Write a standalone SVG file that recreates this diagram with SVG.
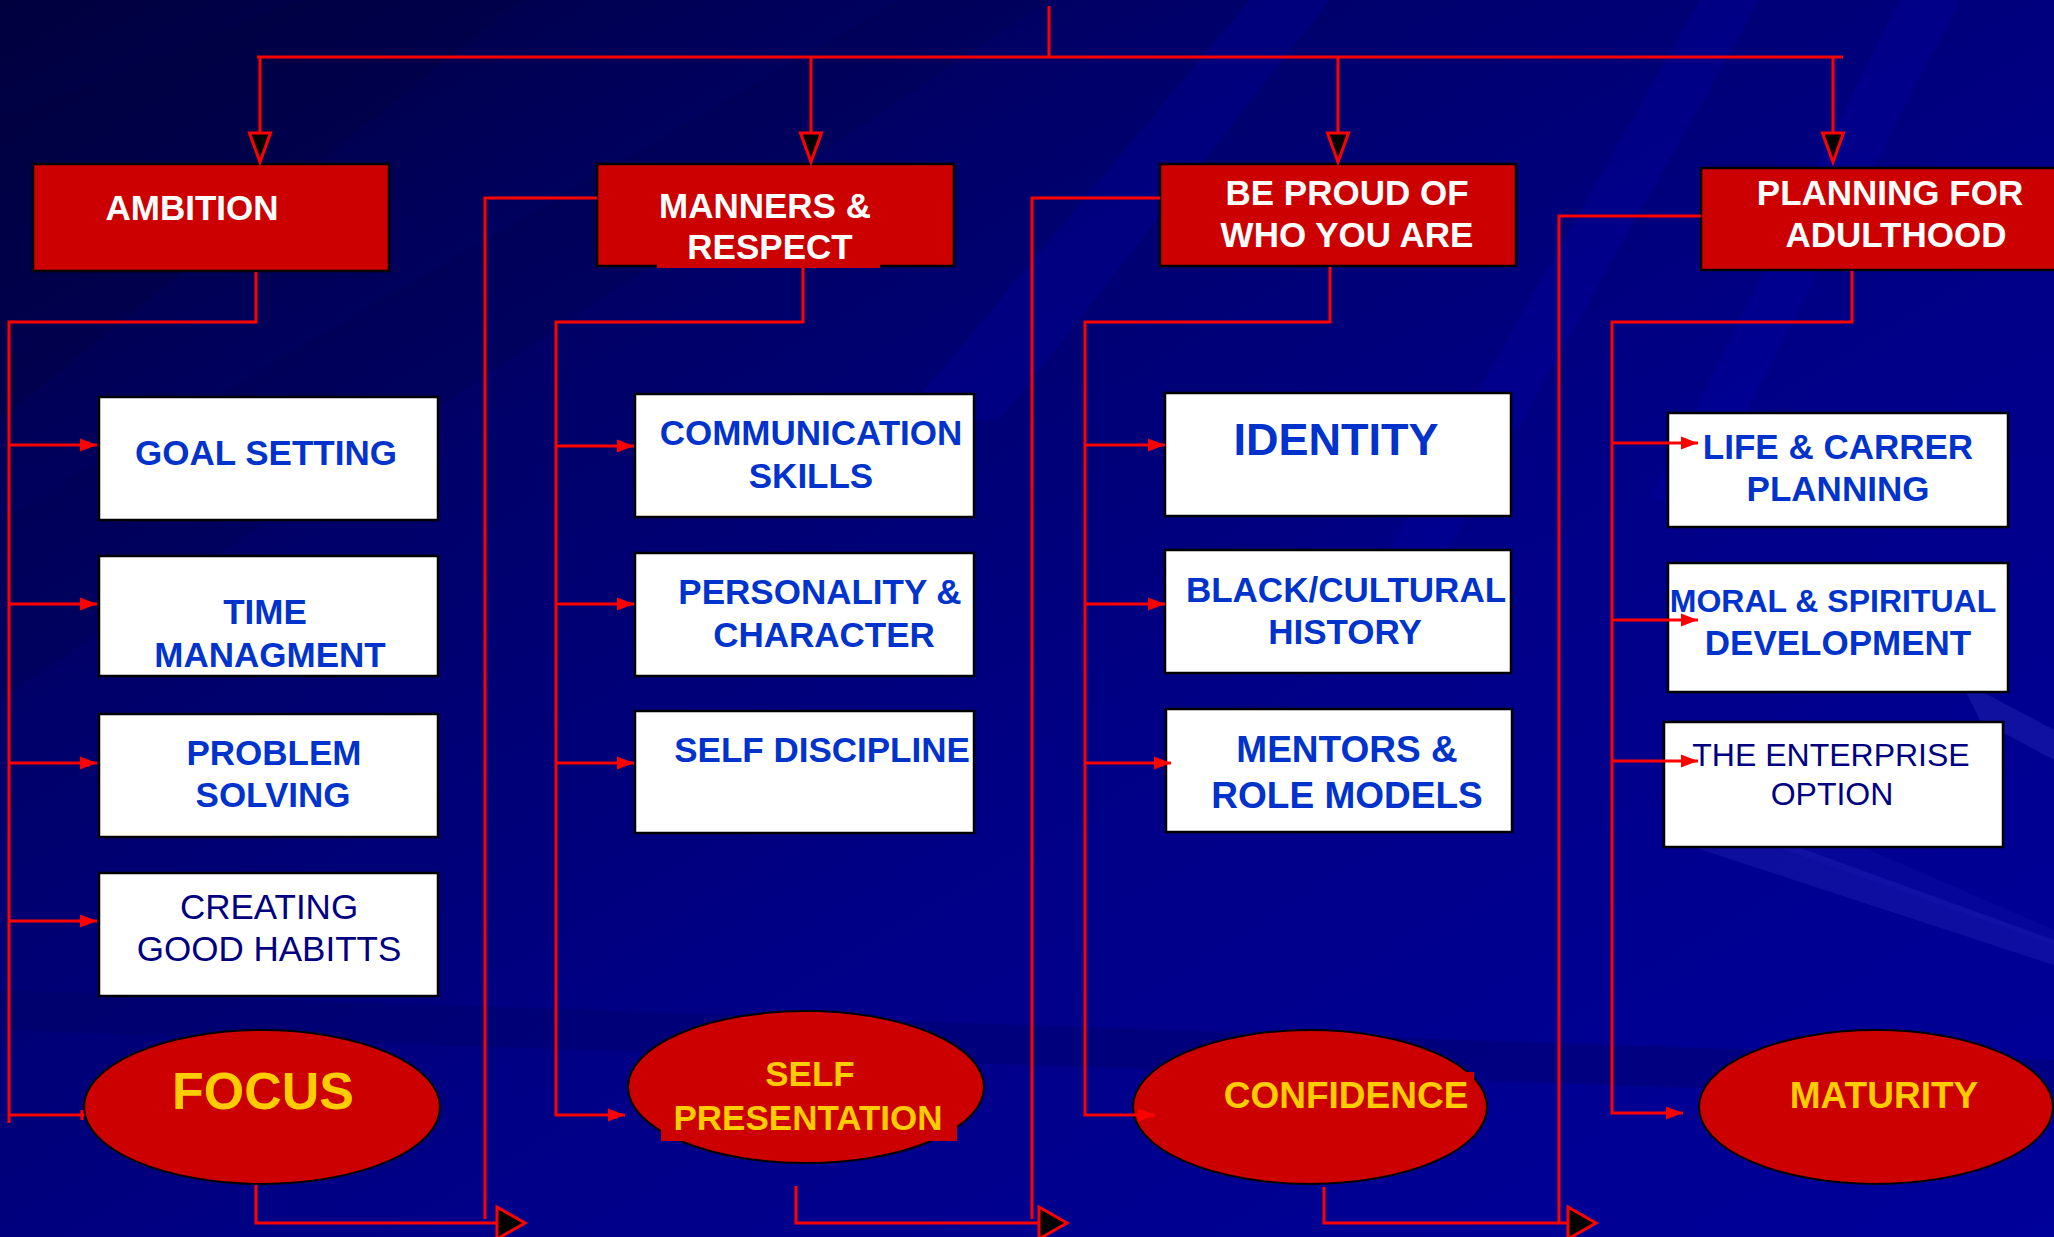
<svg xmlns="http://www.w3.org/2000/svg" width="2054" height="1237" viewBox="0 0 2054 1237">
<defs>
<linearGradient id="bg" x1="0" y1="0" x2="1" y2="1">
<stop offset="0" stop-color="#00003E"/>
<stop offset="0.3" stop-color="#00006A"/>
<stop offset="0.6" stop-color="#000088"/>
<stop offset="1" stop-color="#00009A"/>
</linearGradient>
<marker id="topArrow" markerUnits="userSpaceOnUse" markerWidth="40" markerHeight="30" refX="29" refY="0" orient="auto" overflow="visible">
<path d="M0,-10.5 L29,0 L0,10.5 Z" fill="#000" stroke="#FF0000" stroke-width="3"/>
</marker>
<marker id="smallArrow" markerUnits="userSpaceOnUse" markerWidth="20" markerHeight="16" refX="17" refY="0" orient="auto" overflow="visible">
<path d="M0,-6.5 L17,0 L0,6.5 Z" fill="#FF0000"/>
</marker>
<marker id="bigArrow" markerUnits="userSpaceOnUse" markerWidth="32" markerHeight="34" refX="28" refY="0" orient="auto" overflow="visible">
<path d="M0,-16 L28,0 L0,16 Z" fill="#000" stroke="#FF0000" stroke-width="3"/>
</marker>
</defs>
<style>
.conn{fill:none;stroke:#FF0000;stroke-width:3}
.head{fill:#CC0000;stroke:#000;stroke-width:2.5}
.box{fill:#FFFFFF;stroke:#000;stroke-width:2.5}
.oval{fill:#CC0000;stroke:#000;stroke-width:2}
.ht{font-family:"Liberation Sans",Arial,sans-serif;font-weight:bold;font-size:35px;fill:#FFFFFF;text-anchor:middle}
.bt{font-family:"Liberation Sans",Arial,sans-serif;font-weight:bold;font-size:35px;fill:#0033CC;text-anchor:middle}
.nt{font-family:"Liberation Sans",Arial,sans-serif;font-size:35px;fill:#000080;text-anchor:middle}
.yt{font-family:"Liberation Sans",Arial,sans-serif;font-weight:bold;font-size:37px;fill:#FFCC00;text-anchor:middle}
</style>

<g id="background">
<rect x="0" y="0" width="2054" height="1237" fill="url(#bg)"/>
<polygon points="0,120 300,0 520,0 0,420" fill="#000040" opacity="0.35"/>
<polygon points="0,520 900,0 1050,0 0,700" fill="#000050" opacity="0.3"/>
<polygon points="1250,0 1330,0 1000,420 900,420" fill="#0000B0" opacity="0.25"/>
<polygon points="1700,0 1760,0 1420,600 1360,600" fill="#0000C0" opacity="0.2"/>
<polygon points="1900,0 1960,0 1700,500 1650,500" fill="#0000C0" opacity="0.2"/>
<polygon points="0,990 2054,1060 2054,1100 0,1030" fill="#000060" opacity="0.35"/>
<polygon points="1690,846 1795,846 2054,940 2054,965" fill="#3030C0" opacity="0.3"/>
<polygon points="1700,820 1800,820 2054,930 2054,945" fill="#2020B8" opacity="0.2"/>
<polygon points="1960,680 2054,730 2054,760 1980,720" fill="#3030C0" opacity="0.35"/>
</g>

<g id="node-ambition">
<rect class="head" x="33" y="164" width="356" height="107"/>
<text class="ht" x="192" y="220">AMBITION</text>
</g>
<g id="node-manners">
<rect class="head" x="597" y="164" width="357" height="102"/>
<rect x="657" y="250" width="223" height="18" fill="#CC0000"/>
<text class="ht" x="765" y="218">MANNERS &amp;</text>
<text class="ht" x="770" y="259">RESPECT</text>
</g>
<g id="node-beproud">
<rect class="head" x="1160" y="164" width="356" height="102"/>
<text class="ht" x="1347" y="205">BE PROUD OF</text>
<text class="ht" x="1347" y="247">WHO YOU ARE</text>
</g>
<g id="node-planning">
<rect class="head" x="1701" y="168" width="360" height="102"/>
<text class="ht" x="1890" y="205">PLANNING FOR</text>
<text class="ht" x="1896" y="247">ADULTHOOD</text>
</g>

<g id="node-goal">
<rect class="box" x="99" y="397" width="339" height="123"/>
<text class="bt" x="266" y="465">GOAL SETTING</text>
</g>
<g id="node-time">
<rect class="box" x="99" y="556" width="339" height="120"/>
<text class="bt" x="265" y="624">TIME</text>
<text class="bt" x="270" y="667">MANAGMENT</text>
</g>
<g id="node-problem">
<rect class="box" x="99" y="714" width="339" height="123"/>
<text class="bt" x="274" y="765">PROBLEM</text>
<text class="bt" x="273" y="807">SOLVING</text>
</g>
<g id="node-habits">
<rect class="box" x="99" y="873" width="339" height="123"/>
<text class="nt" x="269" y="919">CREATING</text>
<text class="nt" x="269" y="961">GOOD HABITTS</text>
</g>

<g id="node-communication">
<rect class="box" x="635" y="394" width="339" height="123"/>
<text class="bt" x="811" y="445">COMMUNICATION</text>
<text class="bt" x="811" y="488">SKILLS</text>
</g>
<g id="node-personality">
<rect class="box" x="635" y="553" width="339" height="123"/>
<text class="bt" x="820" y="604">PERSONALITY &amp;</text>
<text class="bt" x="824" y="647">CHARACTER</text>
</g>
<g id="node-discipline">
<rect class="box" x="635" y="711" width="339" height="122"/>
<text class="bt" x="822" y="762">SELF DISCIPLINE</text>
</g>

<g id="node-identity">
<rect class="box" x="1165" y="393" width="346" height="123"/>
<text class="bt" x="1336" y="455" style="font-size:45px">IDENTITY</text>
</g>
<g id="node-black">
<rect class="box" x="1165" y="550" width="346" height="123"/>
<text class="bt" x="1346" y="602">BLACK/CULTURAL</text>
<text class="bt" x="1345" y="644">HISTORY</text>
</g>
<g id="node-mentors">
<rect class="box" x="1166" y="709" width="346" height="123"/>
<text class="bt" x="1347" y="762" style="font-size:37px">MENTORS &amp;</text>
<text class="bt" x="1347" y="808" style="font-size:37px">ROLE MODELS</text>
</g>

<g id="node-life">
<rect class="box" x="1668" y="413" width="340" height="114"/>
<text class="bt" x="1838" y="459">LIFE &amp; CARRER</text>
<text class="bt" x="1838" y="501">PLANNING</text>
</g>
<g id="node-moral">
<rect class="box" x="1668" y="563" width="340" height="129"/>
<text class="bt" x="1833" y="612" style="font-size:32px">MORAL &amp; SPIRITUAL</text>
<text class="bt" x="1838" y="655">DEVELOPMENT</text>
</g>
<g id="node-enterprise">
<rect class="box" x="1664" y="722" width="339" height="125"/>
<text class="nt" x="1831" y="766" style="font-size:32px">THE ENTERPRISE</text>
<text class="nt" x="1832" y="805" style="font-size:32px">OPTION</text>
</g>

<g id="node-focus">
<ellipse class="oval" cx="262" cy="1107" rx="178" ry="77"/>
<text class="yt" x="263" y="1109" style="font-size:52px">FOCUS</text>
</g>
<g id="node-selfpresentation">
<ellipse class="oval" cx="806" cy="1087" rx="178" ry="76"/>
<rect x="661" y="1096" width="296" height="45" fill="#CC0000"/>
<text class="yt" x="810" y="1086" style="font-size:35px">SELF</text>
<text class="yt" x="808" y="1130" style="font-size:35px">PRESENTATION</text>
</g>
<g id="node-confidence">
<ellipse class="oval" cx="1310" cy="1107" rx="177" ry="77"/>
<rect x="1218" y="1072" width="256" height="44" fill="#CC0000"/>
<text class="yt" x="1346" y="1108">CONFIDENCE</text>
</g>
<g id="node-maturity">
<ellipse class="oval" cx="1876" cy="1107" rx="177" ry="77"/>
<text class="yt" x="1884" y="1108">MATURITY</text>
</g>

<g id="connectors">
<path class="conn" d="M1049,6 V57"/>
<path class="conn" d="M257,57 H1843"/>
<path class="conn" d="M260,57 V162" marker-end="url(#topArrow)"/>
<path class="conn" d="M811,57 V162" marker-end="url(#topArrow)"/>
<path class="conn" d="M1338,57 V162" marker-end="url(#topArrow)"/>
<path class="conn" d="M1833,57 V162" marker-end="url(#topArrow)"/>

<path class="conn" d="M256,272 V322 H9 V1123"/>
<path class="conn" d="M9,445 H97" marker-end="url(#smallArrow)"/>
<path class="conn" d="M9,604 H97" marker-end="url(#smallArrow)"/>
<path class="conn" d="M9,763 H97" marker-end="url(#smallArrow)"/>
<path class="conn" d="M9,921 H97" marker-end="url(#smallArrow)"/>
<path class="conn" d="M9,1115 H84 M82,1110 V1120"/>
<path class="conn" d="M256,1185 V1223 H525" marker-end="url(#bigArrow)"/>

<path class="conn" d="M597,198 H485 V1219"/>
<path class="conn" d="M803,268 V322 H556 V1115 H625" marker-end="url(#smallArrow)"/>
<path class="conn" d="M556,446 H634" marker-end="url(#smallArrow)"/>
<path class="conn" d="M556,604 H634" marker-end="url(#smallArrow)"/>
<path class="conn" d="M556,763 H634" marker-end="url(#smallArrow)"/>
<path class="conn" d="M796,1186 V1223 H1067" marker-end="url(#bigArrow)"/>

<path class="conn" d="M1160,198 H1032 V1219"/>
<path class="conn" d="M1330,267 V322 H1085 V1115 H1155" marker-end="url(#smallArrow)"/>
<path class="conn" d="M1085,445 H1165" marker-end="url(#smallArrow)"/>
<path class="conn" d="M1085,604 H1165" marker-end="url(#smallArrow)"/>
<path class="conn" d="M1085,763 H1171" marker-end="url(#smallArrow)"/>
<path class="conn" d="M1324,1187 V1223 H1596" marker-end="url(#bigArrow)"/>

<path class="conn" d="M1701,216 H1559 V1222"/>
<path class="conn" d="M1852,271 V322 H1612 V1113 H1683" marker-end="url(#smallArrow)"/>
<path class="conn" d="M1612,443 H1698" marker-end="url(#smallArrow)"/>
<path class="conn" d="M1612,620 H1698" marker-end="url(#smallArrow)"/>
<path class="conn" d="M1612,761 H1698" marker-end="url(#smallArrow)"/>
</g>
</svg>
